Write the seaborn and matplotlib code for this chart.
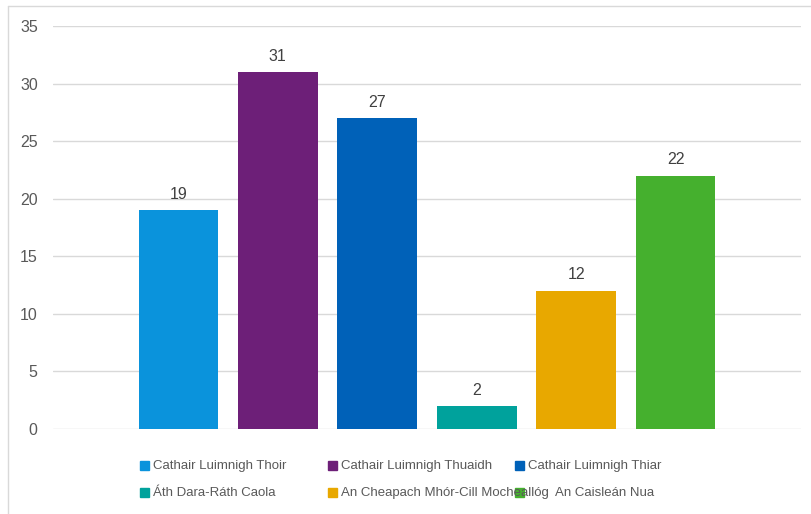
import matplotlib.pyplot as plt
import seaborn as sns
import pandas as pd
from matplotlib.patches import Rectangle
from matplotlib.lines import Line2D

# data
areas = ['Cathair Luimnigh Thoir', 'Cathair Luimnigh Thuaidh', 'Cathair Luimnigh Thiar',
         'Áth Dara-Ráth Caola', 'An Cheapach Mhór-Cill Mocheallóg', 'An Caisleán Nua']
counts = [19, 31, 27, 2, 12, 22]
colours = ['#0A93DC', '#6D1F78', '#0061B8', '#00A29C', '#E8A800', '#45B02E']
yticks = [0, 5, 10, 15, 20, 25, 30, 35]

df = pd.DataFrame({'area': areas, 'count': counts})

sns.set_theme(style='white')
plt.rcParams['font.family'] = ['Liberation Sans', 'DejaVu Sans']

W, H = 811, 514
fig = plt.figure(figsize=(W / 100, H / 100), dpi=100)
ax = fig.add_axes([53 / W, 1 - 429 / H, (801 - 53) / W, (429 - 26) / H])

sns.barplot(data=df, x='area', y='count', hue='area', palette=colours,
            dodge=False, legend=False, width=0.8, saturation=1, linewidth=0, ax=ax)

ax.set_xlim(-1.26, len(areas) - 1 + 1.26)
ax.set_ylim(0, 35)
ax.set_yticks(yticks)
ax.yaxis.grid(True, color='#D9D9D9', linewidth=1)
ax.set_axisbelow(True)
ax.set_xticks([])
ax.set_xlabel('')
ax.set_ylabel('')
for s in ax.spines.values():
    s.set_visible(False)
ax.tick_params(axis='y', length=0, pad=11, labelsize=11.5, labelcolor='#595959')

for c in ax.containers:
    ax.bar_label(c, padding=6, fontsize=11.5, color='#404040')

# legend drawn by hand so the last two entries overlap like the original
leg_x = [140, 328, 515]
leg_y = [465, 492]
text_x = [[153, 341, 528], [153, 341, 555]]
for i, name in enumerate(areas):
    r, col = divmod(i, 3)
    x0, y0 = leg_x[col], leg_y[r]
    fig.patches.append(Rectangle(((x0) / W, 1 - (y0 + 4.5) / H), 8.5 / W, 8.5 / H,
                                 transform=fig.transFigure, color=colours[i]))
    fig.text(text_x[r][col] / W, 1 - (y0 + 1) / H, name, fontsize=9.5, color='#595959',
             ha='left', va='center')

# light outer frame of the chart area
fig.lines.append(Line2D([7.5 / W, 7.5 / W], [0, 1 - 5.5 / H], transform=fig.transFigure,
                        color='#D9D9D9', linewidth=1))
fig.lines.append(Line2D([7.5 / W, 1], [1 - 5.5 / H, 1 - 5.5 / H], transform=fig.transFigure,
                        color='#D9D9D9', linewidth=1))

fig.savefig('out.png', dpi=100)
